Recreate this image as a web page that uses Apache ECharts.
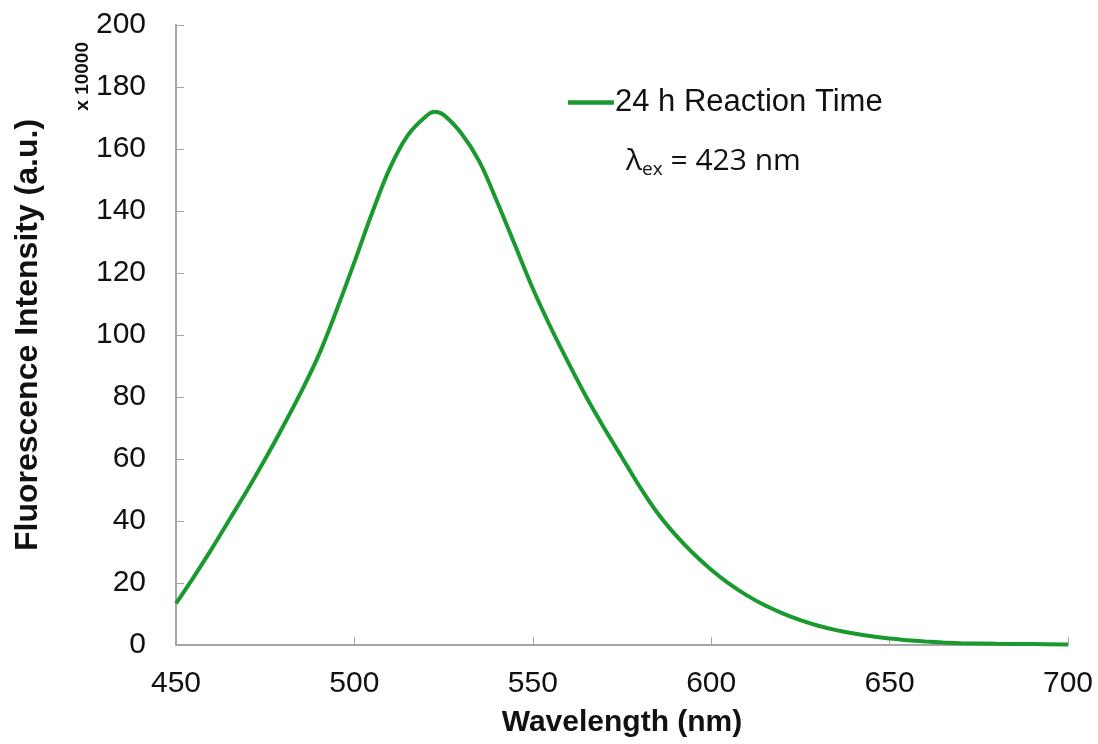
<!DOCTYPE html>
<html>
<head>
<meta charset="utf-8">
<script src="https://cdn.jsdelivr.net/npm/echarts@6/dist/echarts.min.js"></script>
<style>html,body{margin:0;padding:0;background:#fff}#c{width:1098px;height:744px}</style>
</head>
<body>
<div id="c"></div>
<script>
const wavelengths = [450,455,460,465,470,475,480,485,490,495,500,505,510,515,520,522.5,525,530,535,540,545,550,555,560,565,570,575,580,585,590,595,600,605,610,615,620,625,630,635,640,645,650,655,660,665,670,680,690,700];
const intensity = [13.4,22,31,40.5,50,60,70.5,81.5,93.5,108,123.5,139.5,154,164.5,170.5,172,171,165,156,143,129,115,102.5,91,80,70,60.5,51,42.5,35.5,29.5,24.3,19.8,16,12.8,10.2,8,6.2,4.8,3.7,2.8,2.1,1.5,1.1,0.8,0.6,0.4,0.3,0.2];
const seriesName = '24 h Reaction Time';
const xTicks = [450,500,550,600,650,700];
const yTicks = [0,20,40,60,80,100,120,140,160,180,200];

const chart = echarts.init(document.getElementById('c'), null, {renderer:'canvas'});
const font = '"Liberation Sans", Arial, sans-serif';
chart.setOption({
  animation:false,
  backgroundColor:'#fff',
  grid:{left:176,right:30,top:25,bottom:99},
  legend:{
    data:[seriesName], left:563, top:82, itemWidth:46, itemHeight:14, itemGap:0,
    textStyle:{fontFamily:font,fontSize:31,color:'#111',padding:[0,0,0,-4]},
    icon:'path://M0,0 L10,0 L10,1 L0,1 Z'
  },
  xAxis:{
    type:'value', min:xTicks[0], max:xTicks[xTicks.length-1], interval:50,
    name:'Wavelength (nm)', nameLocation:'middle', nameGap:63,
    nameTextStyle:{fontFamily:font,fontSize:30,fontWeight:'bold',color:'#111'},
    axisLine:{lineStyle:{color:'#a6a6a6',width:2}},
    axisTick:{inside:true,length:8,lineStyle:{color:'#a6a6a6',width:1}},
    axisLabel:{fontFamily:font,fontSize:30,color:'#111',margin:24},
    splitLine:{show:false}
  },
  yAxis:{
    type:'value', min:yTicks[0], max:yTicks[yTicks.length-1], interval:20,
    name:'Fluorescence Intensity (a.u.)', nameLocation:'middle', nameGap:132,
    nameTextStyle:{fontFamily:font,fontSize:32,fontWeight:'bold',color:'#111'},
    axisLine:{show:true,lineStyle:{color:'#a6a6a6',width:2}},
    axisTick:{show:true,inside:true,length:8,lineStyle:{color:'#a6a6a6',width:1}},
    axisLabel:{fontFamily:font,fontSize:30,color:'#111',margin:30},
    splitLine:{show:false}
  },
  series:[{
    name:seriesName, type:'line', smooth:0.35, showSymbol:false,
    data:wavelengths.map((w,i)=>[w,intensity[i]]),
    lineStyle:{color:'#1a9a2e',width:4}, itemStyle:{color:'#1a9a2e'}
  }],
  graphic:[
    {type:'text', left:73, top:42, rotation:Math.PI/2,
     style:{text:'x 10000', fontFamily:font, fontSize:19, fontWeight:'bold', fill:'#111'}},
    {type:'text', left:626, top:146,
     style:{text:'{l|λ}{s|ex}{l| = 423 nm}', fontFamily:'"Open Sans", sans-serif', fill:'#111',
       rich:{l:{fontSize:30,fontFamily:'"Open Sans", sans-serif',fill:'#111'},
             s:{fontSize:19,fontFamily:'"Open Sans", sans-serif',fill:'#111',padding:[17,0,0,0]}}}}
  ]
});
</script>
</body>
</html>
